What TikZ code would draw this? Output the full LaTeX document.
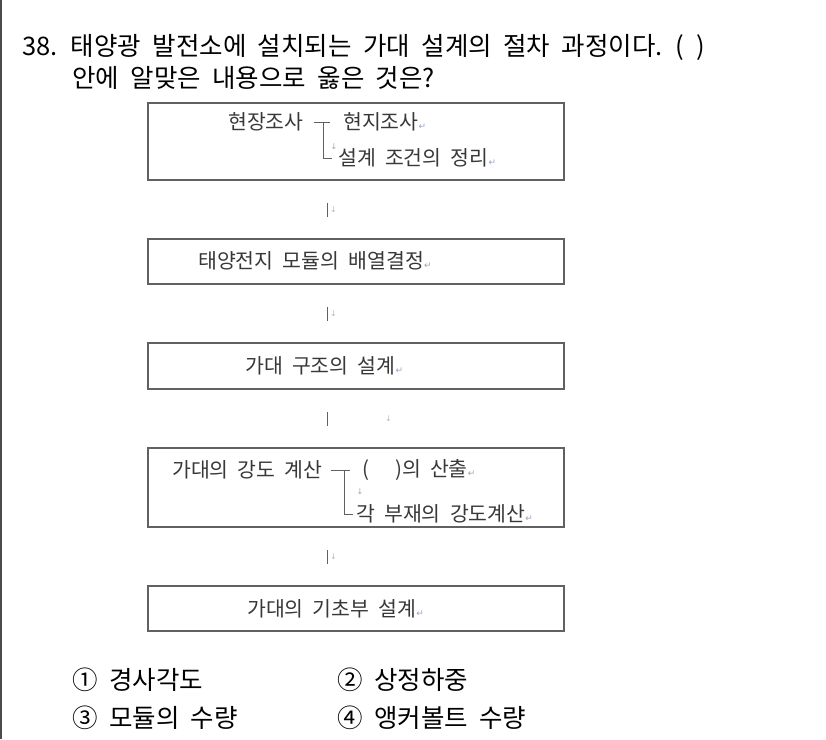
\documentclass[tikz,border=0pt]{standalone}
\usepackage{fontspec}
\setmainfont{Noto Sans CJK KR}[WordSpace=2]
\newfontfamily\symfont{DejaVu Sans}
\usepackage{tikz}
\usetikzlibrary{positioning,calc}
\usepackage{xcolor}
\definecolor{boxline}{gray}{0.38}
\definecolor{boxtext}{gray}{0.22}
\definecolor{retmark}{RGB}{150,165,195}
\newcommand{\enter}{{\symfont\fontsize{9}{9}\selectfont\color{retmark}↵}}

\begin{document}
\begin{tikzpicture}[x=1pt,y=-1pt,node distance=59pt,
  box/.style={draw=boxline,line width=1.4pt,minimum width=416pt,outer sep=0pt,inner sep=0pt},
  txt/.style={inner sep=0pt,anchor=west,text=boxtext,font=\fontsize{20.5}{20.5}\selectfont},
  big/.style={inner sep=0pt,anchor=west,font=\fontsize{25.5}{25.5}\selectfont},
  bar/.style={draw=boxline,line width=1pt},
  tick/.style={inner sep=0pt,text=gray!55,font=\symfont\fontsize{8}{8}\selectfont}]

  \useasboundingbox (0,0) rectangle (826,739);
  \draw[line width=1.6pt,black!70] (1,0) -- (1,739);

  % question
  \node(Q1)[big] at (22,47) {38. 태양광 발전소에 설치되는 가대 설계의 절차 과정이다. ( )};
  \node(Q2)[big] at (72,78) {안에 알맞은 내용으로 옳은 것은?};

  % boxes
  \node(A)[box,minimum height=77pt] at (356,141.5) {};
  \node(B)[box,minimum height=45pt,below=of A] {};
  \node(C)[box,minimum height=46pt,below=of B] {};
  \node(D)[box,minimum height=79pt,below=of C] {};
  \node(E)[box,minimum height=45pt,below=of D] {};

  \node(a1)[txt] at (228,122) {현장조사};
  \node(a2)[txt] at (343,122) {현지조사\enter};
  \node(a3)[txt] at (338,158) {설계 조건의 정리\enter};
  \draw[bar] ([xshift=10pt]a1.east) -- ([xshift=-13pt]a2.west);
  \draw[bar] ($(a1.east)!0.5!(a2.west)$) |- ([xshift=-6pt]a3.west);
  \node[tick,text=retmark] at ([xshift=-4pt,yshift=11pt]a3.west) {↓};

  \node(b1)[txt] at (198,261) {태양전지 모듈의 배열결정\enter};
  \node(c1)[txt] at (245,366) {가대 구조의 설계\enter};

  \node(d1)[txt] at (172,470) {가대의 강도 계산};
  \node(d2)[txt] at (362,470) {(\hspace{26pt})의 산출\enter};
  \node(d3)[txt] at (356,514) {각 부재의 강도계산\enter};
  \draw[bar] ([xshift=8pt]d1.east) -- ([xshift=-12pt]d2.west);
  \draw[bar] ($(d1.east)!0.55!(d2.west)$) |- ([xshift=-3pt]d3.west);
  \node[tick,text=retmark] at ([xshift=4pt,yshift=22pt]d3.west) {↓};

  \node(e1)[txt] at (247,609) {가대의 기초부 설계\enter};

  % marks between the boxes
  \coordinate(ab) at ($(A.south)!0.5!(B.north)+(-29,0)$);
  \coordinate(bc) at ($(B.south)!0.5!(C.north)+(-29,0)$);
  \coordinate(cd) at ($(C.south)!0.5!(D.north)+(-29,0)$);
  \coordinate(de) at ($(D.south)!0.5!(E.north)+(-29,0)$);
  \foreach \m in {ab,bc,cd,de}
    \draw[bar] ([yshift=-7pt]\m) -- ([yshift=7pt]\m);
  \node[tick,right=3pt of ab] {↓};
  \node[tick,right=3pt of bc] {↓};
  \node[tick,right=58pt of cd] {↓};
  \node[tick,right=3pt of de] {↓};

  % choices
  \node(o1)[big] at (72,680) {① 경사각도};
  \node(o2)[big] at (337,680) {② 상정하중};
  \node(o3)[big] at (72,718) {③ 모듈의 수량};
  \node(o4)[big] at (337,718) {④ 앵커볼트 수량};
\end{tikzpicture}
\end{document}
